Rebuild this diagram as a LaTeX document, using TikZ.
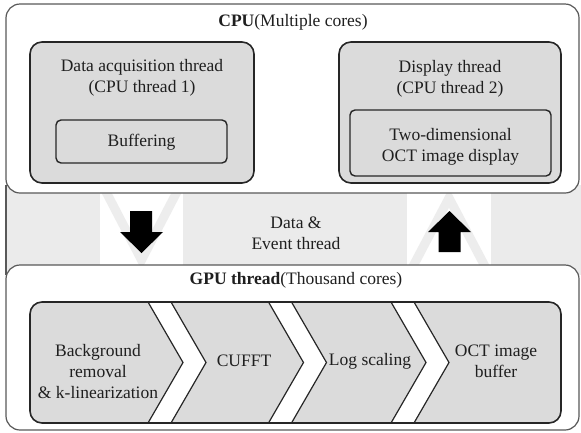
\documentclass[tikz,border=0pt]{standalone}
\usepackage{fontspec}
\setmainfont{Liberation Serif}
\begin{document}
\begin{tikzpicture}[x=1pt,y=-1pt,
  txt/.style={font=\fontsize{17.5}{21}\selectfont, align=center, inner sep=0pt, text=black!88},
  outerbox/.style={draw=black!65, line width=1.2pt, fill=white, rounded corners=14pt},
  innerbox/.style={draw=black!85, line width=1.6pt, fill=black!14, rounded corners=12pt},
  subbox/.style={draw=black!85, line width=1.4pt, fill=black!14, rounded corners=5pt},
  bigarrow/.style={fill=black, draw=none},
  stripe/.style={draw=black!7, line width=9pt, line cap=butt}
]
\useasboundingbox (0,0) rectangle (581,432);
% middle band
\fill[black!8] (6,185) rectangle (581,275);
\draw[black!65, line width=1.2pt] (6,185) -- (6,275);
% white chevron areas
\fill[white] (100,193) rectangle (183,265);
\fill[white] (407,193) rectangle (491,265);
\begin{scope}
  \clip (100,193) rectangle (183,265);
  \draw[stripe] (103,186) -- (141.5,260) -- (180,186);
\end{scope}
\begin{scope}
  \clip (407,193) rectangle (491,265);
  \draw[stripe] (410,272) -- (449,198) -- (488,272);
\end{scope}
% arrows
\fill[bigarrow] (130,211) -- (152,211) -- (152,232) -- (163,232) -- (141.5,253) -- (120,232) -- (130,232) -- cycle;
\fill[bigarrow] (438.5,252) -- (460.5,252) -- (460.5,232) -- (471,232) -- (449.5,211) -- (428,232) -- (438.5,232) -- cycle;
\node[txt] (band) at (296,233.5) {Data \&\\Event thread};

% CPU box
\draw[outerbox] (6,4) rectangle (579,193);
\node[txt] (cpu) at (293,22) {\textbf{CPU}(Multiple cores)};
\draw[innerbox] (30,42) rectangle (254,183);
\node[txt] (acq) at (142,77.5) {Data acquisition thread\\(CPU thread 1)};
\draw[subbox] (56,120) rectangle (227,163);
\node[txt] (buf) at (141.5,142) {Buffering};
\draw[innerbox] (339,42) rectangle (561,183);
\node[txt] (disp) at (450,78.5) {Display thread\\(CPU thread 2)};
\draw[subbox] (350,110) rectangle (551,176);
\node[txt] (twod) at (450.5,147) {Two-dimensional\\OCT image display};

% GPU box
\draw[outerbox] (6,265) rectangle (579,430);
\node[txt] (gpu) at (296,280) {\textbf{GPU thread}(Thousand cores)};
\fill[black!14, rounded corners=12pt] (30,302) rectangle (561,423);
\foreach \x in {148,268.5,391}{
  \fill[white] (\x,302) -- (\x+23,302) -- (\x+58,362.5) -- (\x+23,423) -- (\x,423) -- (\x+35,362.5) -- cycle;
  \draw[black!85, line width=1.2pt] (\x,302) -- (\x+35,362.5) -- (\x,423);
  \draw[black!85, line width=1.2pt] (\x+23,302) -- (\x+58,362.5) -- (\x+23,423);
}
\draw[draw=black!85, line width=1.6pt, rounded corners=12pt] (30,302) rectangle (561,423);
\node[txt] (bg) at (98,371.5) {Background\\removal\\\& k-linearization};
\node[txt] (fft) at (244,361) {CUFFT};
\node[txt] (log) at (370,361) {Log scaling};
\node[txt] (oct) at (496,361) {OCT image\\buffer};
\end{tikzpicture}
\end{document}
